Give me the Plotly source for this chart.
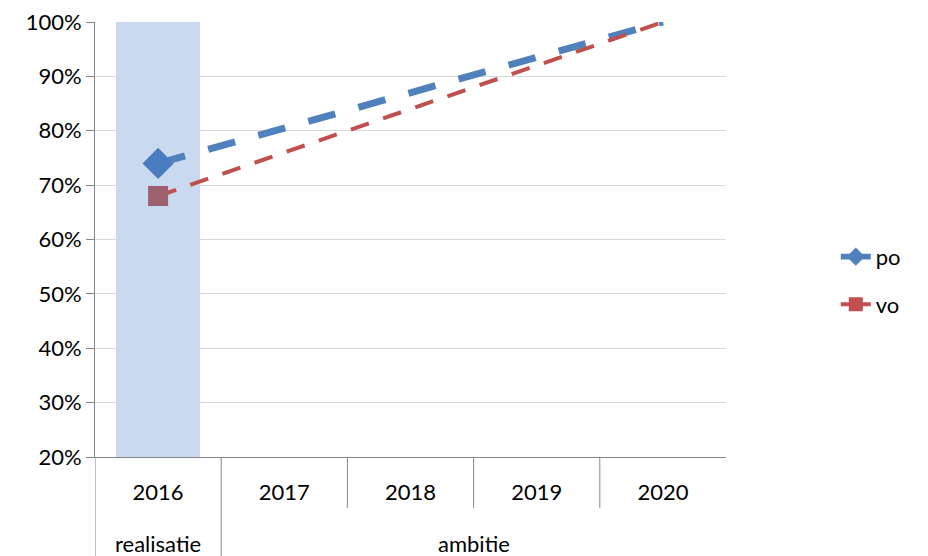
import plotly.graph_objects as go

years = ["2016", "2017", "2018", "2019", "2020"]
groups = ["realisatie", "ambitie"]
po = [74, 80.5, 87, 93.5, 100]
vo = [68, 76, 84, 92, 100]
realisatie_bar = [100]

blue = "#4F81BD"
red = "#C0504D"
axis_col = "#868686"
font = "Lato"

fig = go.Figure()

# highlight column for the realised year
fig.add_trace(go.Bar(x=years[:1], y=realisatie_bar, width=0.667,
                     marker=dict(color="#C9DAF0", line_width=0),
                     showlegend=False, hoverinfo="skip"))

# dashed ambition lines
fig.add_trace(go.Scatter(x=years, y=po, mode="lines", showlegend=False,
                         line=dict(color=blue, width=7, dash="28px,24px")))
fig.add_trace(go.Scatter(x=years, y=vo, mode="lines", showlegend=False,
                         line=dict(color=red, width=4, dash="19px,15px")))

# markers only on the realised value
fig.add_trace(go.Scatter(x=years[:1], y=po[:1], mode="markers", showlegend=False,
                         marker=dict(symbol="diamond", size=24, color="#4A7DC0")))
fig.add_trace(go.Scatter(x=years[:1], y=vo[:1], mode="markers", showlegend=False,
                         marker=dict(symbol="square", size=20, color="#9E5F6E")))

# legend entries (solid lines)
fig.add_trace(go.Scatter(x=[None], y=[None], mode="lines+markers", name="po",
                         legendgroup="po",
                         line=dict(color=blue, width=6),
                         marker=dict(symbol="diamond", size=14, color=blue)))
fig.add_trace(go.Scatter(x=[None], y=[None], mode="lines+markers", name="vo",
                         legendgroup="vo",
                         line=dict(color=red, width=4),
                         marker=dict(symbol="square", size=14, color=red)))

# category dividers below the axis
shapes = []
for b in [-0.5, 0.5]:
    shapes.append(dict(type="line", xref="x", yref="paper", x0=b, x1=b, y0=0, y1=-0.23,
                       line=dict(color=axis_col, width=1)))
for b in [1.5, 2.5, 3.5]:
    shapes.append(dict(type="line", xref="x", yref="paper", x0=b, x1=b, y0=0, y1=-0.117,
                       line=dict(color=axis_col, width=1)))

annotations = [
    dict(x=0, y=-0.198, xref="x", yref="paper", text=groups[0], showarrow=False,
         font=dict(family=font, size=22, color="black"), yanchor="middle"),
    dict(x=2.5, y=-0.198, xref="x", yref="paper", text=groups[1], showarrow=False,
         font=dict(family=font, size=22, color="black"), yanchor="middle"),
]

# page adds an 8px body offset, so margins are shifted to compensate
fig.update_layout(
    width=928, height=556,
    margin=dict(l=87, r=210, t=14, b=107, autoexpand=False),
    plot_bgcolor="white", paper_bgcolor="white",
    font=dict(family=font, size=22, color="black"),
    shapes=shapes, annotations=annotations,
    legend=dict(x=1.174, y=0.405, yanchor="middle", xanchor="left",
                font=dict(size=22), tracegroupgap=16),
    bargap=0,
)
fig.update_xaxes(type="category", range=[-0.5, 4.5], showline=True, linecolor=axis_col,
                 showgrid=False, ticks="", ticklabelstandoff=16, automargin=False,
                 tickfont=dict(size=22))
fig.update_yaxes(range=[20, 100], dtick=10, ticksuffix="%", showline=True, linecolor=axis_col,
                 gridcolor="#D9D9D9", ticks="outside", ticklen=8, tickcolor=axis_col,
                 zeroline=False, automargin=False, ticklabeloverflow="allow",
                 tickfont=dict(size=22))

fig.write_html("out.html")
